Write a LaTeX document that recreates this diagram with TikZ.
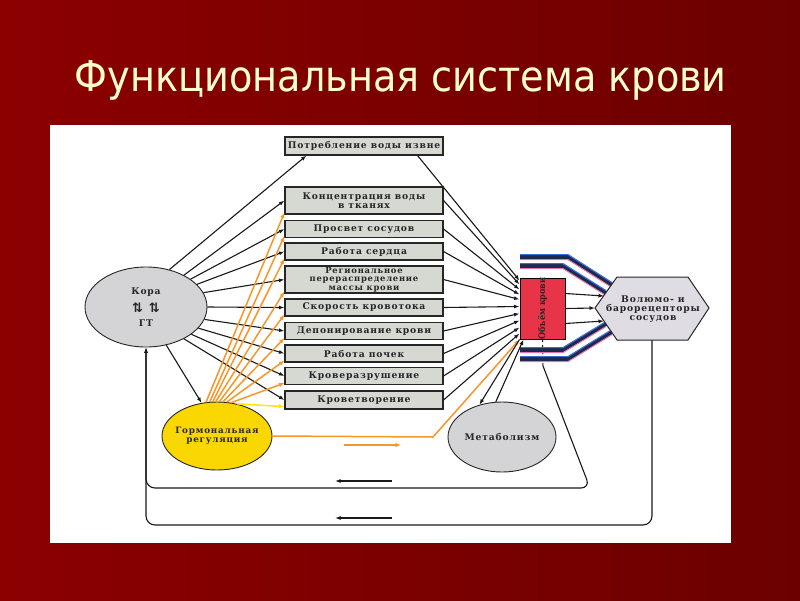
\documentclass[tikz,border=0pt]{standalone}
\usepackage{fontspec}
\setmainfont{Liberation Serif}
\newfontfamily\boxfont[LetterSpace=9]{DejaVu Serif Bold}
\newfontfamily\volfont{DejaVu Serif Condensed Bold}
\newfontfamily\titlefont{DejaVu Sans Condensed}
\newfontfamily\symfont{DejaVu Sans Bold}
\usetikzlibrary{arrows.meta,shapes.geometric,calc}
\newcommand{\dfont}{\boxfont\fontsize{9.2}{9}\selectfont}
\definecolor{bgred}{RGB}{140,0,0}
\definecolor{bgdark}{RGB}{108,0,0}
\definecolor{titleyellow}{RGB}{255,255,204}
\definecolor{boxgray}{RGB}{214,216,210}
\definecolor{ellgray}{RGB}{212,212,215}
\definecolor{hormyellow}{RGB}{250,215,0}
\definecolor{volred}{RGB}{232,52,72}
\definecolor{hexgray}{RGB}{224,220,228}
\definecolor{hormorange}{RGB}{248,150,40}
\definecolor{bandnavy}{RGB}{30,40,80}
\definecolor{bandblue}{RGB}{60,110,210}
\definecolor{bandpink}{RGB}{230,120,170}
\tikzset{
  box/.style={draw=black!85, line width=1.1pt, fill=boxgray, minimum width=158pt,
    minimum height=17pt, inner sep=1pt, align=center, text=black!85, font=\dfont},
  blob/.style={ellipse, draw=black!85, line width=0.9pt, inner sep=0pt},
  label/.style={align=center, text=black!85, font=\dfont},
  link/.style={black!90, line width=1.1pt, -{Latex[length=5.5pt,width=4pt]}},
  hlink/.style={hormorange, line width=1.5pt, -{Latex[length=5.5pt,width=4.5pt]}},
}
% one blue band = dark core with coloured edges
\newcommand{\band}[1]{%
  \draw[bandnavy, line width=4pt] #1;
  \draw[bandblue, line width=1.2pt, yshift=2.4pt] #1;
  \draw[bandpink, line width=1pt, yshift=-2.6pt] #1;
}

\begin{document}
\begin{tikzpicture}[x=1pt,y=-1pt]
  \useasboundingbox (0,0) rectangle (800,600);
  \shade[left color=bgred, right color=bgdark] (0,0) rectangle (800,600);

  %%%%% title %%%%%
  \node[font=\titlefont\fontsize{42.5}{44}\selectfont, text=titleyellow] (title) at (401,80) {Функциональная система крови};

  \fill[white] (50,125) rectangle (731,543);

  %%%%% boxes %%%%%
  \node[box, minimum height=18pt] (water) at (364,146) {Потребление воды извне};
  \node[box, minimum height=27pt] (conc) at (364,200.5) {Концентрация воды\\в тканях};
  \node[box] (lumen) at (364,229) {Просвет сосудов};
  \node[box] (heart) at (364,251.5) {Работа сердца};
  \node[box, minimum height=27pt, inner sep=0.5pt, font=\boxfont\fontsize{8.4}{8.6}\selectfont] (region) at (364,279.5) {Региональное\\перераспределение\\массы крови};
  \node[box] (speed) at (364,307.5) {Скорость кровотока};
  \node[box] (depot) at (364,331) {Депонирование крови};
  \node[box] (kidney) at (364,353.5) {Работа почек};
  \node[box] (destr) at (364,376) {Кроверазрушение};
  \node[box, minimum height=18pt] (hemat) at (364,400) {Кроветворение};

  %%%%% ellipses %%%%%
  \node[blob, fill=ellgray, minimum width=122pt, minimum height=80pt] (kora) at (146,307) {};
  \node[label] (koratxt) at (146,292) {Кора};
  \node[font=\symfont\fontsize{13}{13}\selectfont, text=black!85] (koraarr) at (146,307.5) {⇅\hspace{6pt}⇅};
  \node[label] (gttxt) at (146,323) {ГТ};
  \node[blob, fill=hormyellow, minimum width=110pt, minimum height=68pt] (horm) at (217,436) {};
  \node[label, font=\boxfont\fontsize{8.8}{9.5}\selectfont] (hormtxt) at (horm.center) {Гормональная\\регуляция};
  \node[blob, fill=ellgray, minimum width=108pt, minimum height=70pt] (metab) at (502,437) {};
  \node[label] (metabtxt) at (metab.center) {Метаболизм};

  %%%%% loops back to the cortex %%%%%
  \coordinate (loopA) at (543,366);
  \draw[black!90, line width=1pt, dashed] (542.5,339) -- (loopA);
  \draw[link, rounded corners=9pt] (loopA) -- (590,488) -- (146,488) -- (kora.south);
  \draw[link, rounded corners=9pt] (652,340) -- (652,525) -- (146,525) -- (kora.south);
  \draw[link] (392,481) -- (335,481);
  \draw[link] (392,518) -- (335,518);

  %%%%% blue bands %%%%%
  \band{(520,257) -- (568,257) -- (612,285)}
  \band{(520,266) -- (563,266) -- (606,293)}
  \band{(520,350) -- (563,350) -- (606,324)}
  \band{(520,359) -- (568,359) -- (612,332)}

  %%%%% blood volume and receptors %%%%%
  \node[draw=black, line width=1pt, fill=volred, minimum width=45pt, minimum height=61pt, inner sep=0pt] (vol) at (542.5,308.5) {};
  \node[rotate=90, font=\volfont\fontsize{9}{9}\selectfont, text=black!85] (voltxt) at (vol.center) {Объём крови};
  \draw[black!85, line width=1pt, fill=hexgray] (595,308) -- (617,277) -- (688,277) -- (709,308) -- (688,340) -- (617,340) -- cycle;
  \node[label] (baro) at (653,309) {Волюмо- и\\барорецепторы\\сосудов};
  \coordinate (baroA) at (604,296);
  \coordinate (baroB) at (595,308);
  \coordinate (baroC) at (604,321);

  %%%%% arrows from the cortex %%%%%
  \draw[link] (kora.58) -- ($(water.south west)+(22,0)$);
  \foreach \b/\a in {conc/40, lumen/32, heart/24, region/14, speed/0, depot/-12, kidney/-22, destr/-31, hemat/-40}
    \draw[link] (kora.\a) -- (\b.west);
  \draw[link] (kora.-62) -- (horm.115);

  %%%%% hormonal arrows %%%%%
  \foreach \b/\a in {conc/108, lumen/102, heart/97, region/92, speed/86, depot/80, kidney/74, destr/67}
    \draw[hlink] (horm.\a) -- ($(\b.south west)+(0,-2)$);
  \draw[hlink, draw=yellow!90!orange] (horm.58) -- ($(hemat.south west)+(0,-3)$);
  \draw[hlink] (horm.east) -- (433,437) -- (vol.south west);
  \draw[hlink] (344,445) -- (401,445);

  %%%%% into the blood volume %%%%%
  \draw[link] ($(water.south east)+(-26,0)$) -- ($(vol.north west)+(0,3)$);
  \foreach \b/\y in {conc/7, lumen/12, heart/17, region/22, speed/29, depot/36, kidney/43, destr/50, hemat/56}
    \draw[link] (\b.east) -- ($(vol.north west)+(0,\y)$);
  \draw[link] (vol.south west) -- (metab.125);
  \draw[link] (metab.100) -- ($(vol.south west)+(4,0)$);
  \draw[link] ($(vol.east)+(0,-15)$) -- (baroA);
  \draw[link] (vol.east) -- (baroB);
  \draw[link] ($(vol.east)+(0,15)$) -- (baroC);
\end{tikzpicture}
\end{document}
